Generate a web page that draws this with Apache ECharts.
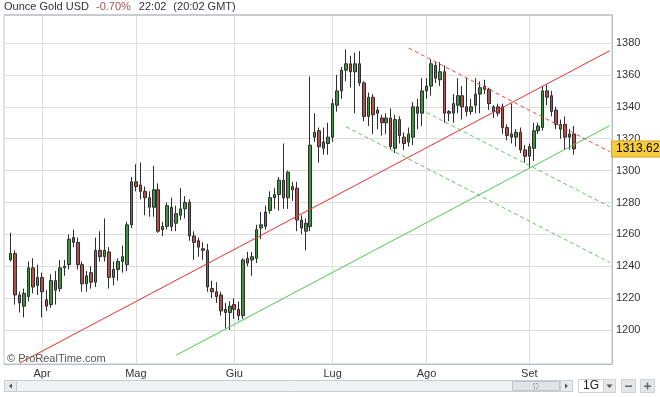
<!DOCTYPE html>
<html>
<head>
<meta charset="utf-8">
<title>Ounce Gold USD</title>
<script src="https://cdn.jsdelivr.net/npm/echarts@6/dist/echarts.min.js"></script>
<style>
  html, body { margin: 0; padding: 0; background: #fff; }
  #chart { width: 660px; height: 397px; }
</style>
</head>
<body>
<div id="chart"></div>
<script>
// giorni di borsa (gg/mm) 2016, il primo e gli ultimi 8 restano vuoti
const dates = [
  '21/03','22/03','23/03','24/03','28/03','29/03','30/03','31/03',
  '01/04','04/04','05/04','06/04','07/04','08/04','11/04','12/04','13/04','14/04','15/04',
  '18/04','19/04','20/04','21/04','22/04','25/04','26/04','27/04','28/04','29/04',
  '02/05','03/05','04/05','05/05','06/05','09/05','10/05','11/05','12/05','13/05',
  '16/05','17/05','18/05','19/05','20/05','23/05','24/05','25/05','26/05','27/05','30/05','31/05',
  '01/06','02/06','03/06','06/06','07/06','08/06','09/06','10/06','13/06','14/06','15/06',
  '16/06','17/06','20/06','21/06','22/06','23/06','24/06','27/06','28/06','29/06','30/06',
  '01/07','04/07','05/07','06/07','07/07','08/07','11/07','12/07','13/07','14/07','15/07',
  '18/07','19/07','20/07','21/07','22/07','25/07','26/07','27/07','28/07','29/07',
  '01/08','02/08','03/08','04/08','05/08','08/08','09/08','10/08','11/08','12/08',
  '15/08','16/08','17/08','18/08','19/08','22/08','23/08','24/08','25/08','26/08','29/08','30/08','31/08',
  '01/09','02/09','05/09','06/09','07/09','08/09','09/09','12/09','13/09','14/09','15/09',
  '16/09','19/09','20/09','21/09','22/09','23/09','26/09','27/09'
];
const monthStarts = ['01/04', '02/05', '01/06', '01/07', '01/08', '01/09'];
const monthNames = ['Apr', 'Mag', 'Giu', 'Lug', 'Ago', 'Set'];

// [apertura, chiusura, minimo, massimo] dal 22/03 al 15/09
const ohlc = [
  [1244,1248,1243,1261],[1248,1222,1216,1250],[1222,1217,1211,1224],[1215,1223,1208,1226],
  [1221,1239,1218,1243],[1239,1227,1223,1245],[1228,1233,1222,1241],
  // aprile
  [1233,1224,1208,1236],[1219,1215,1212,1225],[1216,1231,1214,1235],[1231,1225,1216,1237],
  [1226,1239,1224,1244],[1239,1240,1234,1244],[1241,1257,1238,1260],[1258,1255,1252,1263],
  [1255,1241,1238,1258],[1241,1229,1224,1243],[1229,1234,1224,1237],[1236,1230,1226,1240],
  [1230,1250,1227,1258],[1250,1246,1243,1262],[1246,1250,1243,1270],[1249,1233,1226,1252],
  [1233,1238,1228,1243],[1238,1243,1231,1245],[1243,1246,1236,1253],[1241,1266,1237,1268],
  [1266,1293,1264,1296],
  // maggio
  [1293,1290,1287,1304],[1291,1287,1282,1305],[1287,1283,1272,1290],[1283,1277,1271,1287],
  [1277,1288,1271,1303],[1288,1262,1261,1292],[1263,1265,1259,1268],[1265,1278,1263,1280],
  [1277,1265,1262,1283],[1267,1273,1262,1278],[1272,1276,1269,1289],[1276,1280,1270,1284],
  [1280,1259,1256,1282],[1259,1255,1244,1262],[1256,1252,1246,1258],[1251,1250,1244,1255],
  [1250,1227,1224,1254],[1226,1224,1220,1231],[1224,1221,1217,1230],[1222,1212,1209,1224],
  [1213,1211,1201,1217],[1211,1215,1200,1218],
  // giugno
  [1216,1213,1207,1220],[1213,1209,1206,1218],[1209,1244,1207,1245],[1242,1245,1240,1249],
  [1244,1246,1234,1249],[1245,1263,1242,1266],[1264,1266,1257,1274],[1265,1274,1263,1278],
  [1275,1283,1273,1287],[1283,1285,1276,1289],[1285,1294,1275,1296],[1294,1283,1276,1317],
  [1283,1299,1276,1300],[1290,1288,1281,1293],[1289,1269,1262,1293],[1269,1264,1260,1272],
  [1262,1267,1250,1270],[1265,1316,1262,1359],[1321,1324,1318,1336],[1325,1315,1305,1327],
  [1314,1318,1310,1327],[1317,1321,1310,1330],
  // luglio
  [1321,1342,1318,1345],[1341,1350,1337,1360],[1350,1363,1345,1365],[1363,1367,1356,1376],
  [1367,1362,1352,1372],[1362,1367,1336,1374],[1367,1355,1353,1375],[1355,1334,1331,1356],
  [1334,1346,1328,1349],[1346,1335,1323,1348],[1336,1338,1326,1340],[1333,1330,1322,1335],
  [1330,1333,1323,1336],[1333,1315,1313,1339],[1314,1332,1311,1335],[1332,1322,1317,1334],
  [1321,1317,1313,1324],[1318,1323,1315,1327],[1321,1340,1316,1343],[1340,1336,1326,1345],
  [1336,1350,1328,1358],
  // agosto
  [1350,1353,1345,1358],[1353,1367,1347,1370],[1366,1358,1355,1368],[1357,1362,1353,1368],
  [1362,1336,1330,1366],[1337,1336,1331,1338],[1336,1342,1330,1348],[1341,1347,1336,1358],
  [1347,1340,1332,1353],[1340,1337,1334,1358],[1337,1340,1335,1345],[1341,1348,1336,1358],
  [1348,1352,1336,1356],[1353,1351,1348,1357],[1351,1342,1338,1352],[1340,1337,1333,1341],
  [1340,1336,1334,1342],[1340,1327,1323,1342],[1327,1322,1319,1329],[1323,1321,1317,1342],
  [1321,1324,1315,1326],[1324,1313,1311,1327],[1313,1309,1305,1316],
  // settembre
  [1309,1315,1302,1317],[1314,1325,1306,1330],[1325,1328,1323,1330],[1327,1350,1325,1353],
  [1350,1346,1341,1354],[1347,1337,1334,1350],[1338,1329,1326,1340],[1326,1329,1320,1332],
  [1329,1321,1313,1334],[1321,1323,1313,1326],[1323,1313.62,1310,1328]
];
const candleDates = dates.slice(1, 1 + ohlc.length);

const yTicks = [1200, 1220, 1240, 1260, 1280, 1300, 1320, 1340, 1360, 1380];
const lastPrice = 1313.62;

// trendline [data, prezzo]
const redLine = [['24/03', 1179.3], ['27/09', 1375.2]];
const greenLine = [['13/05', 1184.2], ['27/09', 1328.2]];
const redDashed = [['26/07', 1376.9], ['27/09', 1311.9]];
const greenDashedTop = [['01/08', 1336.4], ['27/09', 1277.3]];
const greenDashedLow = [['06/07', 1327.5], ['27/09', 1242.4]];

const font = '"Liberation Sans", Arial, sans-serif';
const isMonthStart = (i, v) => monthStarts.indexOf(v) >= 0;

function trend(data, color, dashed) {
  return {
    type: 'line', data: data, symbol: 'none', silent: true, z: 4,
    lineStyle: { color: color, width: 1, type: dashed ? [4, 3] : 'solid' }
  };
}

const chart = echarts.init(document.getElementById('chart'));
chart.setOption({
  animation: false,
  title: {
    left: 4, top: 1, padding: 0,
    text: '{a|Ounce Gold USD}{b|-0.70%}{a|22:02}{c|(20:02 GMT)}',
    textStyle: {
      fontFamily: font, fontSize: 11, fontWeight: 'normal',
      rich: {
        a: { color: '#333', fontSize: 11, fontFamily: font, padding: [0, 7, 0, 0] },
        b: { color: '#a8504e', fontSize: 11, fontFamily: font, padding: [0, 8, 0, 0] },
        c: { color: '#333', fontSize: 11, fontFamily: font }
      }
    }
  },
  grid: {
    left: 4, right: 48, top: 15, bottom: 33,
    show: true, borderColor: '#c3c8ce', borderWidth: 1, backgroundColor: '#fff'
  },
  xAxis: {
    type: 'category', data: dates, boundaryGap: true,
    axisLine: { lineStyle: { color: '#b8bec5' } },
    axisTick: { show: false },
    axisLabel: {
      interval: isMonthStart, color: '#333', fontSize: 11, fontFamily: font, margin: 4,
      formatter: v => monthNames[monthStarts.indexOf(v)]
    },
    splitLine: {
      show: true, interval: isMonthStart, alignWithLabel: true,
      lineStyle: { color: '#dedede', width: 1 }
    }
  },
  yAxis: {
    type: 'value', position: 'right', min: 1178.7, max: 1397.6,
    axisLine: { show: true, lineStyle: { color: '#b8bec5' } },
    axisTick: { show: false, customValues: yTicks },
    axisLabel: {
      customValues: yTicks, color: '#333', fontSize: 11, fontFamily: font, margin: 4,
      formatter: v => String(v)
    },
    splitLine: { show: true, lineStyle: { color: '#dedede', width: 1 } }
  },
  series: [
    {
      type: 'candlestick', barWidth: 3, z: 3,
      data: candleDates.map((d, i) => [d].concat(ohlc[i])),
      encode: { x: 0, y: [1, 2, 3, 4] },
      itemStyle: {
        color: '#3f9440', color0: '#b4504c',
        borderColor: '#2e2e2e', borderColor0: '#2e2e2e', borderWidth: 1
      },
      markLine: {
        silent: true, symbol: ['none', 'none'],
        lineStyle: { color: 'rgba(0,0,0,0)', width: 1 },
        data: [{ yAxis: lastPrice }],
        label: {
          show: true, position: 'end', distance: 0,
          formatter: () => lastPrice.toFixed(2),
          color: '#000', fontSize: 12, fontFamily: font,
          backgroundColor: '#f7cc3f', borderColor: '#d8a810', borderWidth: 1,
          padding: [2, 4, 1, 4]
        }
      }
    },
    trend(redLine, '#e2332e', false),
    trend(greenLine, '#52c452', false),
    trend(redDashed, '#e44a44', true),
    trend(greenDashedTop, '#62c462', true),
    trend(greenDashedLow, '#62c462', true)
  ],
  graphic: [
    { type: 'rect', shape: { x: 4, y: 14, width: 608, height: 2 }, style: { fill: '#c8ccd1' }, z: 10, silent: true },
    { type: 'text', left: 7, top: 353, z: 10, silent: true,
      style: { text: '\u00a9 ProRealTime.com', fill: '#555', font: '11px ' + font } },
    // barra di scorrimento
    { type: 'rect', shape: { x: 4.5, y: 380.5, width: 568, height: 11 },
      style: { fill: '#f1f2f4', stroke: '#c9ccd1' } },
    { type: 'rect', shape: { x: 4.5, y: 380.5, width: 12, height: 11 },
      style: { fill: '#e9eaec', stroke: '#c9ccd1' } },
    { type: 'polygon', shape: { points: [[12, 383.5], [12, 388.5], [9, 386]] }, style: { fill: '#555' } },
    { type: 'rect', shape: { x: 512.5, y: 381.5, width: 47, height: 9 },
      style: { fill: '#e1e3e6', stroke: '#c2c5ca' } },
    { type: 'rect', shape: { x: 534, y: 383.5, width: 4, height: 5 },
      style: { fill: 'none', stroke: '#8a8d92', lineDash: [1, 1] } },
    { type: 'rect', shape: { x: 560.5, y: 380.5, width: 12, height: 11 },
      style: { fill: '#e9eaec', stroke: '#c9ccd1' } },
    { type: 'polygon', shape: { points: [[565, 383.5], [565, 388.5], [568, 386]] }, style: { fill: '#555' } },
    { type: 'rect', shape: { x: 578.5, y: 379.5, width: 25, height: 13 },
      style: { fill: '#fff', stroke: '#cfd1d4' } },
    { type: 'text', left: 583, top: 380, style: { text: '1G', fill: '#222', font: '12px ' + font } },
    { type: 'rect', shape: { x: 603.5, y: 379.5, width: 12, height: 13 },
      style: { fill: '#e6e7e9', stroke: '#cfd1d4' } },
    { type: 'polygon', shape: { points: [[606.5, 384.5], [612.5, 384.5], [609.5, 388]] }, style: { fill: '#555' } },
    { type: 'rect', shape: { x: 621.5, y: 379.5, width: 14, height: 13 },
      style: { fill: '#e4e5e7', stroke: '#cfd1d4' } },
    { type: 'rect', shape: { x: 625, y: 385.5, width: 7, height: 1.5 }, style: { fill: '#666' } },
    { type: 'rect', shape: { x: 640.5, y: 379.5, width: 14, height: 13 },
      style: { fill: '#e4e5e7', stroke: '#cfd1d4' } },
    { type: 'rect', shape: { x: 644, y: 385.5, width: 7, height: 1.5 }, style: { fill: '#666' } },
    { type: 'rect', shape: { x: 646.75, y: 382.5, width: 1.5, height: 7 }, style: { fill: '#666' } }
  ]
});
</script>
</body>
</html>
